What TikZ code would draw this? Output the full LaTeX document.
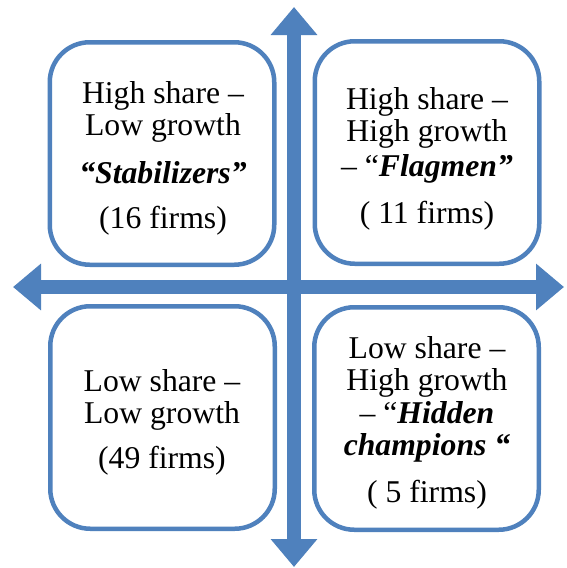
\documentclass[tikz,border=0pt]{standalone}
\usepackage{fontspec}
\setmainfont{Liberation Serif}
\usetikzlibrary{arrows.meta}
\definecolor{qblue}{RGB}{79,129,189}
\tikzset{
  quadbox/.style={draw=qblue, line width=4.5pt, fill=white, rounded corners=40pt,
    minimum width=224.5pt, minimum height=222.5pt, inner sep=0pt},
  quadtext/.style={anchor=base, inner sep=0pt, font=\fontsize{31.7}{32.5}\selectfont},
  axis/.style={draw=qblue, line width=14pt,
    {Triangle[length=28pt,width=45pt]}-{Triangle[length=28pt,width=45pt]}}
}
\newcommand{\bi}[1]{\textbf{\textit{#1}}}
\begin{document}
\begin{tikzpicture}[x=1pt,y=-1pt]
\useasboundingbox (0,0) rectangle (566,568);
\fill[white] (0,0) rectangle (566,568);
% boxes
\node[quadbox] (tl) at (162,153.5) {};
\node[quadbox] (tr) at (427,152.5) {};
\node[quadbox] (bl) at (162.5,417.5) {};
\node[quadbox] (br) at (426.5,418.5) {};
% texts
\node[quadtext] (tltext) at (163,103) {\begin{tabular}[t]{@{}c@{}}High share --\\ Low growth\\[15.5pt] \bi{“Stabilizers”}\\[12.5pt] (16 firms)\end{tabular}};
\node[quadtext] (trtext) at (427,109) {\begin{tabular}[t]{@{}c@{}}High share --\\ High growth\\[2.5pt] -- “\bi{Flagmen”}\\[14.5pt] ( 11 firms)\end{tabular}};
\node[quadtext] (bltext) at (162,391) {\begin{tabular}[t]{@{}c@{}}Low share --\\ Low growth\\[12.5pt] (49 firms)\end{tabular}};
\node[quadtext] (brtext) at (427,358) {\begin{tabular}[t]{@{}c@{}}Low share --\\ High growth\\ -- “\bi{Hidden}\\ \bi{champions “}\\[14.5pt] ( 5 firms)\end{tabular}};
% axes
\coordinate (top) at (294,7);
\coordinate (bottom) at (294,567);
\coordinate (left) at (13,287);
\coordinate (right) at (564,287);
\draw[axis] (left) -- (right);
\draw[axis] (bottom) -- (top);
\end{tikzpicture}
\end{document}
